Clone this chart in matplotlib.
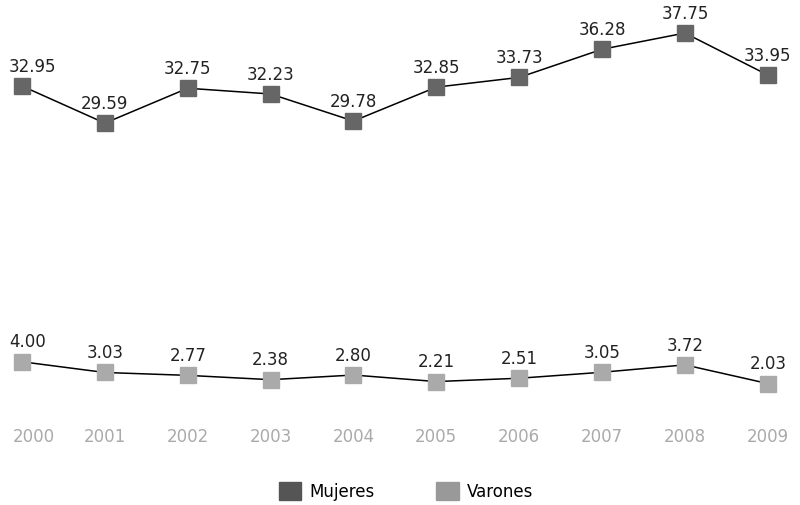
import matplotlib
matplotlib.use("Agg")
import matplotlib.pyplot as plt
from matplotlib.patches import Patch
from matplotlib.transforms import ScaledTranslation

years = ["2000", "2001", "2002", "2003", "2004", "2005", "2006", "2007", "2008", "2009"]
mujeres = [32.95, 29.59, 32.75, 32.23, 29.78, 32.85, 33.73, 36.28, 37.75, 33.95]
varones = [4.00, 3.03, 2.77, 2.38, 2.80, 2.21, 2.51, 3.05, 3.72, 2.03]

c_muj = "#666666"
c_var = "#aaaaaa"
x = list(range(len(years)))

fig = plt.figure(figsize=(8, 5.06), dpi=100)
# two panels, same vertical scale (about 11 px per unit)
ax1 = fig.add_axes([0.0016, 0.720, 0.984, 0.240])
ax2 = fig.add_axes([0.0016, 0.1957, 0.984, 0.1092])

for ax, vals, col, lim in [(ax1, mujeres, c_muj, (28, 39)), (ax2, varones, c_var, (0, 5))]:
    ax.plot(x, vals, color="black", lw=1.1, marker="s", markersize=11.5,
            markerfacecolor=col, markeredgecolor=col, zorder=3)
    for xi, v in zip(x, vals):
        # first label pushed right so it stays inside the figure
        if xi == 0:
            ax.annotate(f"{v:.2f}", (xi, v), xytext=(-9.5, 11), textcoords="offset points",
                        ha="left", va="baseline", fontsize=12, color="#222222")
        else:
            ax.annotate(f"{v:.2f}", (xi, v), xytext=(0, 11), textcoords="offset points",
                        ha="center", va="baseline", fontsize=12, color="#222222")
    ax.set_xlim(-0.25, 9.25)
    ax.set_ylim(*lim)
    ax.set_yticks([])
    for s in ax.spines.values():
        s.set_visible(False)
    ax.patch.set_visible(False)

ax1.set_xticks([])
ax2.set_xticks(x)
ax2.set_xticklabels(years)
ax2.tick_params(axis="x", length=0, pad=15, labelsize=12, labelcolor="#aaaaaa")
first = ax2.get_xticklabels()[0]
first.set_ha("left")
first.set_transform(first.get_transform() + ScaledTranslation(-0.09, 0, fig.dpi_scale_trans))

handles = [Patch(color="#555555", label="Mujeres"), Patch(color="#999999", label="Varones")]
fig.legend(handles=handles, loc="center", bbox_to_anchor=(406 / 800, 1 - 492 / 506),
           ncol=2, frameon=False, fontsize=12, handlelength=1.35, handleheight=1.35,
           handletextpad=0.5, columnspacing=3.7)

fig.savefig("out.png", dpi=100)
